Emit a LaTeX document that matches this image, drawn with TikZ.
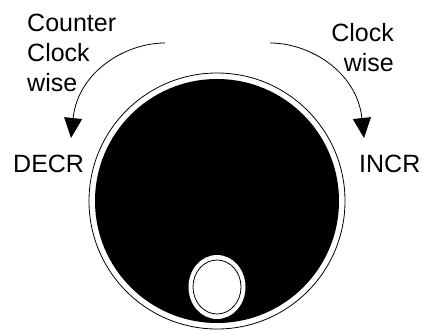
\documentclass[tikz,border=0pt]{standalone}
\usepackage{fontspec}
\setmainfont{Liberation Sans}
\usepackage{tikz}
\usetikzlibrary{arrows.meta}

\begin{document}
\begin{tikzpicture}[x=1pt,y=-1pt]
\tikzstyle{label}=[inner sep=0, font=\fontsize{25pt}{30pt}\selectfont]
\tikzstyle{turn}=[-{Triangle[length=20pt,width=18pt]}, line width=0.8pt]
\tikzstyle{rim}=[line width=0.8pt]
\useasboundingbox (0,0) rectangle (422,331);

  % knob
  \draw[rim] (217,201) circle (128);
  \fill[black] (217,201) circle (122);
  \fill[white] (217,287) ellipse (28.5 and 32);
  \draw[rim] (217,287) ellipse (24 and 27);

  % labels
  \node[label, anchor=base west, align=left] (ccw) at (27,92) {Counter\\Clock\\wise};
  \node[label, anchor=base east, align=right] (cw) at (394,72) {Clock\\wise};
  \node[label, anchor=base west] (decr) at (13,172) {DECR};
  \node[label, anchor=base west] (incr) at (359,172) {INCR};

  % turning arrows
  \coordinate (ccw start) at (165,43);
  \coordinate (ccw end) at (71,138);
  \coordinate (cw start) at (270,43);
  \coordinate (cw end) at (364,138);
  \draw[turn] (ccw start) .. controls (125,43) and (78,72) .. (ccw end);
  \draw[turn] (cw start) .. controls (310,43) and (357,72) .. (cw end);
\end{tikzpicture}
\end{document}
